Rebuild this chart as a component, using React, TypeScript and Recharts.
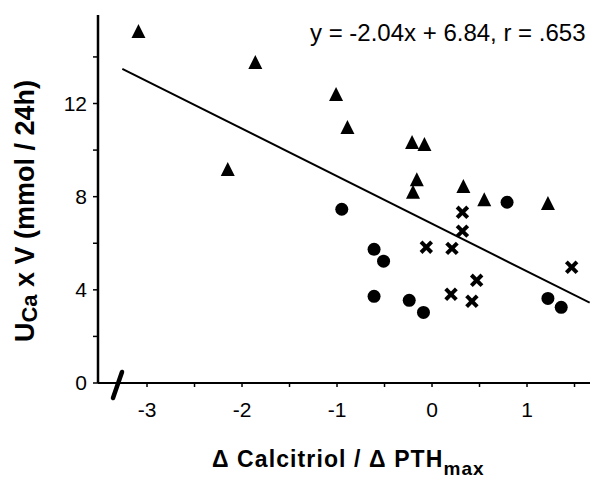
import React from 'react';
import { ScatterChart, Scatter, XAxis, YAxis, ReferenceLine, Label } from 'recharts';

const FONT = '"Liberation Sans", Arial, Helvetica, sans-serif';

// Triangles
const triX = [-3.09, -1.86, -1.01, -0.89, -2.15, -0.21, -0.08, -0.16, -0.2, 0.33, 0.55, 1.22];
const triY = [15.07, 13.74, 12.37, 10.95, 9.14, 10.3, 10.22, 8.71, 8.17, 8.41, 7.85, 7.68];
// Circles
const cirX = [-0.95, 0.79, -0.61, -0.51, -0.61, -0.24, -0.09, 1.22, 1.36];
const cirY = [7.46, 7.76, 5.74, 5.23, 3.72, 3.55, 3.03, 3.63, 3.25];
// Crosses
const crsX = [0.32, 0.32, -0.06, 0.21, 0.47, 0.2, 0.42, 1.47];
const crsY = [7.33, 6.52, 5.83, 5.78, 4.41, 3.81, 3.51, 4.97];
// Regression line end points (y = -2.04x + 6.84)
const lineX = [-3.26, 1.66];
const lineY = [13.49, 3.45];

const xTicks = [-3, -2.5, -2, -1.5, -1, -0.5, 0, 0.5, 1, 1.5];
const yTicks = [0, 2, 4, 6, 8, 10, 12, 14];
const equation = 'y = -2.04x + 6.84, r = .653';

const tri = triX.map((x, i) => ({ x, y: triY[i] }));
const cir = cirX.map((x, i) => ({ x, y: cirY[i] }));
const crs = crsX.map((x, i) => ({ x, y: crsY[i] }));

const TriangleShape = (p: any) => {
  const { cx, cy } = p;
  return <polygon points={`${cx},${cy - 8} ${cx - 7},${cy + 6} ${cx + 7},${cy + 6}`} fill="#000" />;
};
const CircleShape = (p: any) => <circle cx={p.cx} cy={p.cy} r={6.5} fill="#000" />;
const CrossShape = (p: any) => {
  const { cx, cy } = p;
  const d = 5.3;
  return (
    <g stroke="#000" strokeWidth={4}>
      <line x1={cx - d} y1={cy - d} x2={cx + d} y2={cy + d} />
      <line x1={cx - d} y1={cy + d} x2={cx + d} y2={cy - d} />
    </g>
  );
};

const XTitle = () => (
  <g>
    <line x1={122} y1={372} x2={113} y2={398} stroke="#000" strokeWidth={4.5} strokeLinecap="round" />
    <text x={212} y={467} fontFamily={FONT} fontWeight="bold" fontSize={23} fill="#000" letterSpacing={1.1}>
      {'Δ Calcitriol / Δ PTH'}
      <tspan fontSize={19} dy={8}>max</tspan>
    </text>
    <text x={310} y={41} fontFamily={FONT} fontSize={24} fill="#000">{equation}</text>
  </g>
);

const YTitle = () => (
  <text transform="rotate(-90)" x={-211} y={34} textAnchor="middle" fontFamily={FONT} fontWeight="bold" fontSize={27} fill="#000">
    U<tspan fontSize={22} dy={3}>Ca</tspan>
    <tspan dy={-3}>{' x V (mmol / 24h)'}</tspan>
  </text>
);

export default function App() {
  return (
    <div style={{ position: 'absolute', left: 0, top: 0, background: '#fff' }}>
      <ScatterChart width={590} height={479} margin={{ top: 15, right: 0, bottom: 56, left: 0 }}>
        <XAxis
          type="number"
          dataKey="x"
          domain={[-3.516, 1.663]}
          allowDataOverflow
          ticks={xTicks}
          interval={0}
          tickFormatter={(v: number) => (Number.isInteger(v) ? String(v) : '')}
          height={40}
          tickSize={4}
          tickMargin={15}
          axisLine={{ stroke: '#000', strokeWidth: 2 }}
          tickLine={{ stroke: '#000', strokeWidth: 1.5 }}
          tick={{ fill: '#000', fontSize: 21, fontFamily: FONT }}
        >
          <Label content={XTitle} />
        </XAxis>
        <YAxis
          type="number"
          dataKey="y"
          domain={[0, 15.8]}
          allowDataOverflow
          ticks={yTicks}
          interval={0}
          tickFormatter={(v: number) => (v % 4 === 0 ? String(v) : '')}
          width={98}
          tickSize={5}
          tickMargin={6}
          axisLine={{ stroke: '#000', strokeWidth: 2.5 }}
          tickLine={{ stroke: '#000', strokeWidth: 1.5 }}
          tick={{ fill: '#000', fontSize: 21, fontFamily: FONT }}
        >
          <Label content={YTitle} />
        </YAxis>
        <ReferenceLine
          segment={[{ x: lineX[0], y: lineY[0] }, { x: lineX[1], y: lineY[1] }]}
          stroke="#000"
          strokeWidth={2}
          ifOverflow="visible"
        />
        <Scatter data={tri} shape={TriangleShape} isAnimationActive={false} />
        <Scatter data={cir} shape={CircleShape} isAnimationActive={false} />
        <Scatter data={crs} shape={CrossShape} isAnimationActive={false} />
      </ScatterChart>
    </div>
  );
}
